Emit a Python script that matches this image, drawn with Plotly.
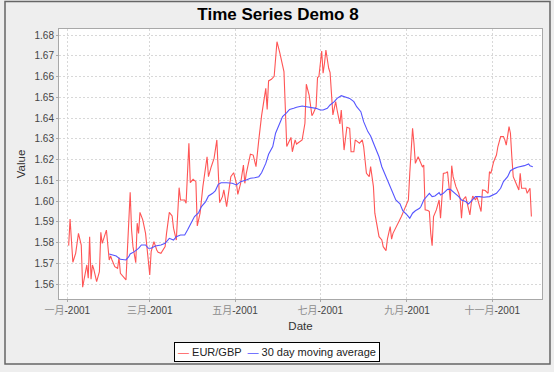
import plotly.graph_objects as go

# ---- data ----
eur_dates = [
    "2001-01-02", "2001-01-03", "2001-01-05", "2001-01-07", "2001-01-09", "2001-01-11", "2001-01-12",
    "2001-01-15", "2001-01-16", "2001-01-17", "2001-01-18", "2001-01-19", "2001-01-20", "2001-01-22",
    "2001-01-24", "2001-01-25", "2001-01-26", "2001-01-29", "2001-01-31", "2001-02-01", "2001-02-02",
    "2001-02-04", "2001-02-06", "2001-02-07", "2001-02-08", "2001-02-10", "2001-02-12", "2001-02-15",
    "2001-02-16", "2001-02-17", "2001-02-19", "2001-02-20", "2001-02-21", "2001-02-22", "2001-02-24",
    "2001-02-26", "2001-02-28", "2001-03-01", "2001-03-02", "2001-03-04", "2001-03-06", "2001-03-07",
    "2001-03-09", "2001-03-12", "2001-03-13", "2001-03-15", "2001-03-17", "2001-03-18", "2001-03-20",
    "2001-03-22", "2001-03-23", "2001-03-26", "2001-03-27", "2001-03-29", "2001-03-30", "2001-04-01",
    "2001-04-03", "2001-04-04", "2001-04-06", "2001-04-08", "2001-04-11", "2001-04-12", "2001-04-14",
    "2001-04-16", "2001-04-18", "2001-04-20", "2001-04-22", "2001-04-23", "2001-04-25", "2001-04-27",
    "2001-04-28", "2001-04-30", "2001-05-02", "2001-05-03", "2001-05-05", "2001-05-07", "2001-05-08",
    "2001-05-09", "2001-05-11", "2001-05-12", "2001-05-14", "2001-05-16", "2001-05-18", "2001-05-20",
    "2001-05-23", "2001-05-24", "2001-05-25", "2001-05-27", "2001-05-29", "2001-05-31", "2001-06-02",
    "2001-06-03", "2001-06-05", "2001-06-07", "2001-06-09", "2001-06-10", "2001-06-11", "2001-06-13",
    "2001-06-14", "2001-06-16", "2001-06-18", "2001-06-20", "2001-06-21", "2001-06-23", "2001-06-24",
    "2001-06-25", "2001-06-26", "2001-06-28", "2001-06-29", "2001-06-30", "2001-07-02", "2001-07-03",
    "2001-07-04", "2001-07-05", "2001-07-07", "2001-07-08", "2001-07-10", "2001-07-12", "2001-07-13",
    "2001-07-15", "2001-07-16", "2001-07-18", "2001-07-20", "2001-07-22", "2001-07-23", "2001-07-25",
    "2001-07-26", "2001-07-28", "2001-07-29", "2001-07-31", "2001-08-01", "2001-08-03", "2001-08-05",
    "2001-08-06", "2001-08-08", "2001-08-09", "2001-08-11", "2001-08-12", "2001-08-14", "2001-08-15",
    "2001-08-17", "2001-08-18", "2001-08-20", "2001-08-21", "2001-08-22", "2001-08-24", "2001-08-26",
    "2001-08-28", "2001-08-30", "2001-09-01", "2001-09-02", "2001-09-03", "2001-09-05", "2001-09-06",
    "2001-09-07", "2001-09-09", "2001-09-11", "2001-09-12", "2001-09-13", "2001-09-14", "2001-09-16",
    "2001-09-17", "2001-09-18", "2001-09-19", "2001-09-20", "2001-09-22", "2001-09-24", "2001-09-25",
    "2001-09-26", "2001-09-27", "2001-09-29", "2001-09-30", "2001-10-02", "2001-10-03", "2001-10-04",
    "2001-10-06", "2001-10-08", "2001-10-09", "2001-10-10", "2001-10-11", "2001-10-13", "2001-10-14",
    "2001-10-16", "2001-10-17", "2001-10-18", "2001-10-20", "2001-10-21", "2001-10-23", "2001-10-24",
    "2001-10-25", "2001-10-27", "2001-10-29", "2001-10-30", "2001-10-31", "2001-11-02", "2001-11-04",
    "2001-11-05", "2001-11-07", "2001-11-09", "2001-11-10", "2001-11-11", "2001-11-13", "2001-11-14",
    "2001-11-15", "2001-11-16", "2001-11-18", "2001-11-20", "2001-11-21", "2001-11-22", "2001-11-25",
    "2001-11-26", "2001-11-28", "2001-11-29",
]
eur_values = [
    1.5786, 1.5914, 1.5706, 1.5749, 1.5845, 1.5789, 1.5586,
    1.5693, 1.5629, 1.5829, 1.5624, 1.5693, 1.5672, 1.5613,
    1.5661, 1.5850, 1.5797, 1.5861, 1.5717, 1.5736, 1.5717,
    1.5685, 1.5677, 1.5728, 1.5653, 1.5634, 1.5621, 1.6043,
    1.5861, 1.5781, 1.5704, 1.5894, 1.5845, 1.5946, 1.5910,
    1.5845, 1.5685, 1.5645, 1.5757, 1.5805, 1.5765, 1.5754,
    1.5749, 1.5781, 1.5845, 1.5946, 1.5929, 1.5870, 1.5813,
    1.6065, 1.6006, 1.6006, 1.5990, 1.6279, 1.6089, 1.6105,
    1.6094, 1.5881, 1.5942, 1.6070, 1.6214, 1.6118, 1.6166,
    1.6206, 1.6295, 1.5993, 1.6022, 1.6054, 1.5974, 1.6070,
    1.6118, 1.6137, 1.6086, 1.6033, 1.6086, 1.6174, 1.6086,
    1.6131, 1.6206, 1.6226, 1.6222, 1.6166, 1.6295, 1.6412,
    1.6543, 1.6442, 1.6579, 1.6587, 1.6601, 1.6768, 1.6715,
    1.6680, 1.6624, 1.6263, 1.6298, 1.6307, 1.6238, 1.6295,
    1.6275, 1.6286, 1.6295, 1.6375, 1.6563, 1.6511, 1.6471,
    1.6412, 1.6423, 1.6455, 1.6595, 1.6600, 1.6723, 1.6616,
    1.6664, 1.6728, 1.6640, 1.6619, 1.6415, 1.6479, 1.6439,
    1.6372, 1.6439, 1.6246, 1.6356, 1.6351, 1.6238, 1.6238,
    1.6295, 1.6287, 1.6279, 1.6295, 1.6263, 1.6134, 1.6118,
    1.6166, 1.6070, 1.5942, 1.5878, 1.5829, 1.5813, 1.5781,
    1.5762, 1.5817, 1.5878, 1.5817, 1.5845, 1.5870, 1.5902,
    1.5926, 1.5958, 1.5985, 1.6006, 1.6134, 1.6351, 1.6279,
    1.6182, 1.6214, 1.6182, 1.6166, 1.6174, 1.5958, 1.5955,
    1.5950, 1.5845, 1.5786, 1.5926, 1.5958, 1.6006, 1.5918,
    1.6014, 1.6134, 1.6137, 1.6142, 1.6006, 1.6171, 1.6118,
    1.6070, 1.6038, 1.6014, 1.5918, 1.6006, 1.6022, 1.5990,
    1.5934, 1.5990, 1.6025, 1.6006, 1.6022, 1.5974, 1.5950,
    1.6054, 1.6051, 1.6038, 1.6142, 1.6134, 1.6190, 1.6222,
    1.6262, 1.6311, 1.6311, 1.6295, 1.6270, 1.6359, 1.6327,
    1.6214, 1.6118, 1.6086, 1.6054, 1.6134, 1.6062, 1.6062,
    1.6038, 1.6062, 1.5926,
]

ma_dates = [
    "2001-01-31", "2001-02-02", "2001-02-05", "2001-02-08", "2001-02-12", "2001-02-14", "2001-02-15",
    "2001-02-18", "2001-02-21", "2001-02-23", "2001-02-26", "2001-02-28", "2001-03-02", "2001-03-05",
    "2001-03-09", "2001-03-12", "2001-03-15", "2001-03-18", "2001-03-20", "2001-03-23", "2001-03-26",
    "2001-03-28", "2001-03-31", "2001-04-02", "2001-04-05", "2001-04-07", "2001-04-10", "2001-04-12",
    "2001-04-15", "2001-04-17", "2001-04-19", "2001-04-21", "2001-04-25", "2001-04-29", "2001-05-02",
    "2001-05-05", "2001-05-09", "2001-05-12", "2001-05-15", "2001-05-18", "2001-05-20", "2001-05-23",
    "2001-05-25", "2001-05-28", "2001-05-30", "2001-06-02", "2001-06-04", "2001-06-07", "2001-06-09",
    "2001-06-12", "2001-06-14", "2001-06-18", "2001-06-22", "2001-06-26", "2001-06-28", "2001-07-01",
    "2001-07-03", "2001-07-06", "2001-07-08", "2001-07-11", "2001-07-13", "2001-07-16", "2001-07-18",
    "2001-07-22", "2001-07-25", "2001-07-27", "2001-07-30", "2001-08-01", "2001-08-04", "2001-08-06",
    "2001-08-09", "2001-08-12", "2001-08-14", "2001-08-17", "2001-08-19", "2001-08-22", "2001-08-24",
    "2001-08-27", "2001-08-29", "2001-09-01", "2001-09-03", "2001-09-05", "2001-09-07", "2001-09-10",
    "2001-09-11", "2001-09-13", "2001-09-16", "2001-09-17", "2001-09-19", "2001-09-21", "2001-09-24",
    "2001-09-25", "2001-09-27", "2001-09-30", "2001-10-02", "2001-10-05", "2001-10-08", "2001-10-10",
    "2001-10-13", "2001-10-15", "2001-10-18", "2001-10-20", "2001-10-23", "2001-10-26", "2001-10-30",
    "2001-11-02", "2001-11-04", "2001-11-07", "2001-11-09", "2001-11-12", "2001-11-14", "2001-11-17",
    "2001-11-19", "2001-11-24", "2001-11-27", "2001-11-28", "2001-11-30",
]
ma_values = [
    1.5746, 1.5741, 1.5736, 1.5720, 1.5717, 1.5733, 1.5746,
    1.5757, 1.5773, 1.5789, 1.5789, 1.5773, 1.5773, 1.5784,
    1.5789, 1.5797, 1.5821, 1.5813, 1.5829, 1.5837, 1.5837,
    1.5861, 1.5901, 1.5926, 1.5945, 1.5974, 1.5998, 1.6025,
    1.6038, 1.6051, 1.6081, 1.6089, 1.6089, 1.6086, 1.6078,
    1.6094, 1.6102, 1.6110, 1.6113, 1.6118, 1.6137, 1.6182,
    1.6226, 1.6263, 1.6327, 1.6378, 1.6407, 1.6426, 1.6442,
    1.6447, 1.6452, 1.6458, 1.6455, 1.6450, 1.6447, 1.6439,
    1.6439, 1.6447, 1.6463, 1.6479, 1.6495, 1.6508, 1.6503,
    1.6495, 1.6479, 1.6455, 1.6431, 1.6383, 1.6335, 1.6314,
    1.6263, 1.6214, 1.6166, 1.6118, 1.6078, 1.6030, 1.6006,
    1.5987, 1.5954, 1.5934, 1.5918, 1.5942, 1.5954, 1.5966,
    1.5974, 1.6006, 1.6030, 1.6038, 1.6022, 1.6025, 1.6041,
    1.6030, 1.6038, 1.6057, 1.6057, 1.6041, 1.6022, 1.6006,
    1.5998, 1.5987, 1.6009, 1.6022, 1.6022, 1.6019, 1.6022,
    1.6030, 1.6038, 1.6062, 1.6094, 1.6118, 1.6147, 1.6158,
    1.6163, 1.6171, 1.6179, 1.6170, 1.6166,
]

series_names = ["EUR/GBP", "30 day moving average"]
month_ticks = ["2001-01-01", "2001-03-01", "2001-05-01", "2001-07-01", "2001-09-01", "2001-11-01"]
month_names = ["一月", "三月", "五月", "七月", "九月", "十一月"]
tick_year = "-2001"

# ---- styling ----
FONT = "Liberation Sans, Arial, Noto Sans CJK SC, sans-serif"
RED = "#FF5555"
BLUE = "#5555FF"

W, H = 554, 372
L, R, T, B = 59, 12, 29, 73
PW, PH = W - L - R, H - T - B


def px_x(p):
    return (p - L) / PW


def px_y(p):
    return (H - B - p) / PH


tick_text = [f'<span style="color:#8C8C8C">{m}</span>{tick_year}' for m in month_names]

fig = go.Figure()
fig.add_trace(go.Scatter(x=eur_dates, y=eur_values, mode="lines", name=series_names[0],
                         line=dict(color=RED, width=1.1)))
fig.add_trace(go.Scatter(x=ma_dates, y=ma_values, mode="lines", name=series_names[1],
                         line=dict(color=BLUE, width=1.1)))

axis_common = dict(
    showgrid=True, gridcolor="#D8D8D8", griddash="2px,2px", gridwidth=1,
    showline=True, linecolor="#A8A8A8", linewidth=1, mirror=True,
    ticks="outside", ticklen=2, tickcolor="#A8A8A8",
    tickfont=dict(family=FONT, size=10, color="#444444"),
    zeroline=False,
)

fig.update_xaxes(
    type="date", range=["2000-12-26 02:00", "2001-12-06 14:00"],
    tickmode="array", tickvals=month_ticks, ticktext=tick_text,
    title=dict(text="Date", font=dict(family=FONT, size=11.5, color="#333333"), standoff=6),
    **axis_common,
)
fig.update_yaxes(
    range=[1.5529, 1.6829], tick0=1.56, dtick=0.01, tickformat=".2f",
    title=dict(text="Value", font=dict(family=FONT, size=11.5, color="#333333"), standoff=6),
    **axis_common,
)

fig.update_layout(
    width=W, height=H,
    margin=dict(l=L, r=R, t=T, b=B, autoexpand=False),
    paper_bgcolor="#EEEEEE", plot_bgcolor="white",
    showlegend=False,
    hovermode=False,
    title=dict(text="<b>Time Series Demo 8</b>", x=278 / W, xanchor="center",
               y=1 - 14 / H, yanchor="middle",
               font=dict(family=FONT, size=17, color="black")),
)

legend_text = (
    f'<span style="color:{RED}">—</span> {series_names[0]}  '
    f'<span style="color:{BLUE}">—</span> {series_names[1]}'
)
fig.add_annotation(
    text=legend_text, xref="paper", yref="paper", x=px_x(277), y=px_y(351.5),
    xanchor="center", yanchor="middle", showarrow=False,
    font=dict(family=FONT, size=11, color="#222222"),
    bgcolor="white", bordercolor="black", borderwidth=1, borderpad=3,
)

# outer chart border
fig.add_shape(type="rect", xref="paper", yref="paper",
              x0=px_x(5), x1=px_x(550), y0=px_y(364), y1=px_y(1.5),
              line=dict(color="#666666", width=1.5), fillcolor="rgba(0,0,0,0)", layer="above")

fig.write_html(
    "out.html",
    config={"displayModeBar": False, "staticPlot": True},
    post_script="document.body.style.margin='0';document.body.style.padding='0';"
                "document.body.style.background='#F4F4F4';",
)
